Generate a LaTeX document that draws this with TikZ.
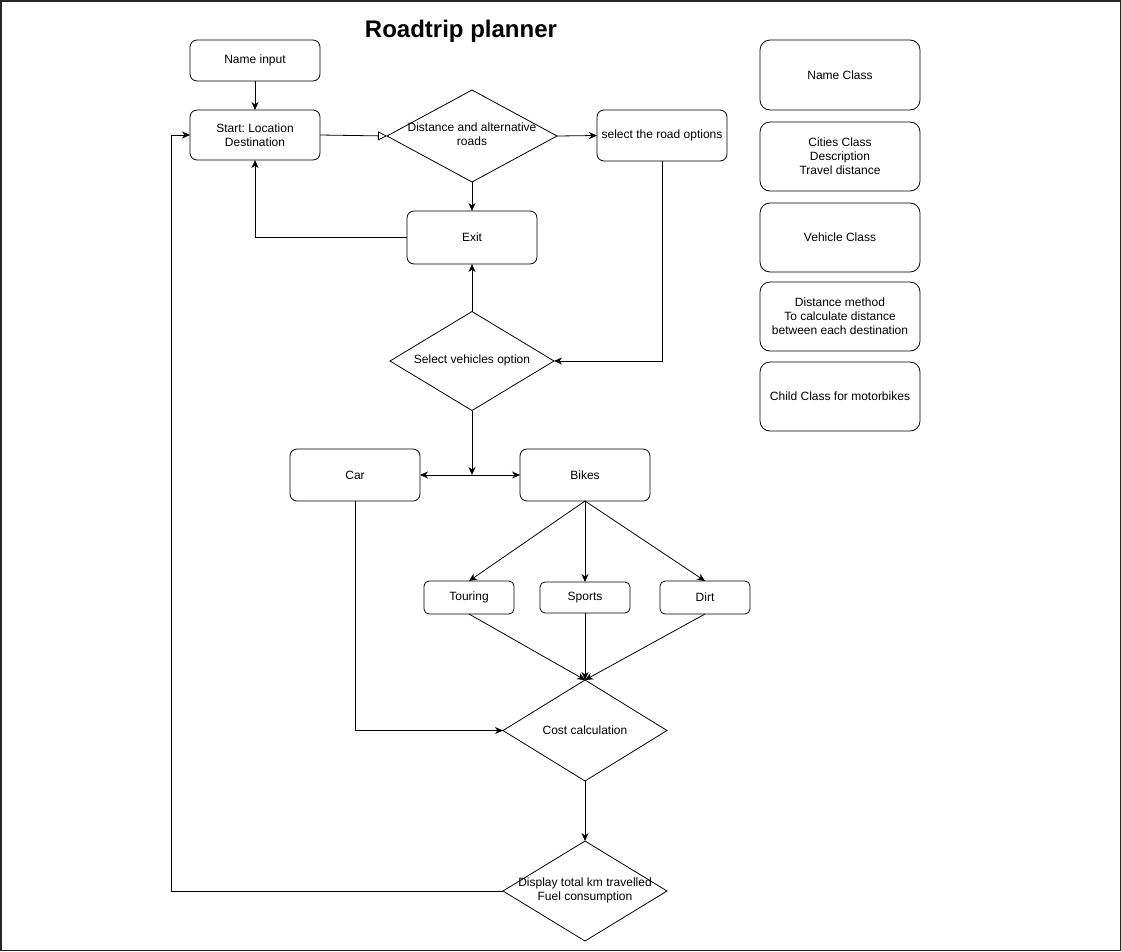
\documentclass[tikz,border=0pt]{standalone}
\usepackage{fontspec}
\setmainfont{Liberation Sans}
\usetikzlibrary{shapes.geometric,arrows.meta}
\frenchspacing
\begin{document}
\begin{tikzpicture}[x=1pt,y=-1pt,
  font=\fontsize{12}{14}\selectfont,
  every node/.style={inner sep=0pt,outer sep=0pt},
  rbox/.style={draw,rounded corners=7pt,line width=0.8pt,align=center},
  cbox/.style={draw,rounded corners=10pt,line width=0.8pt,align=center,minimum width=160pt},
  dbox/.style={draw,diamond,line width=0.8pt},
  lbl/.style={align=center},
  conn/.style={line width=0.8pt,-{Stealth[length=8pt,width=7pt,inset=2.5pt]}},
  openconn/.style={line width=0.8pt,-{Triangle[open,length=9pt,width=9pt]}},
  plain/.style={line width=0.8pt}
]
\useasboundingbox (0,0) rectangle (1121,951);
\draw[black!85,line width=1.5pt] (0.75,0.75) rectangle (1120.25,950.25);

\node[font=\bfseries\fontsize{24}{28}\selectfont] (title) at (461,31) {Roadtrip planner};

% left flow
\node[rbox,minimum width=130pt,minimum height=41pt] (name) at (255,60.5) {Name input};
\node[rbox,minimum width=130pt,minimum height=50pt] (start) at (255,135) {Start: Location\\Destination};
\node[dbox,minimum width=170pt,minimum height=92pt] (dist) at (472,136) {};
\node[lbl] (distt) at (472,134) {Distance and alternative\\roads};
\node[rbox,minimum width=130pt,minimum height=51pt] (road) at (662,135.5) {select the road options};
\node[rbox,minimum width=130pt,minimum height=53pt] (exit) at (472,237.5) {Exit};
\node[dbox,minimum width=164pt,minimum height=99pt] (veh) at (472,361) {};
\node[lbl] (veht) at (472,360) {Select vehicles option};
\node[rbox,minimum width=130pt,minimum height=52pt] (car) at (355,475) {Car};
\node[rbox,minimum width=130pt,minimum height=52pt] (bikes) at (585,475) {Bikes};
\coordinate (junc) at (472,475);
\node[rbox,rounded corners=5pt,minimum width=90pt,minimum height=33pt] (touring) at (469,597.5) {Touring};
\node[rbox,rounded corners=5pt,minimum width=90pt,minimum height=31pt] (sports) at (585,597.5) {Sports};
\node[rbox,rounded corners=5pt,minimum width=90pt,minimum height=33pt] (dirt) at (705,597.5) {Dirt};
\node[dbox,minimum width=164pt,minimum height=101pt] (cost) at (585,730.5) {};
\node[lbl] (costt) at (585,730) {Cost calculation};
\node[dbox,minimum width=164pt,minimum height=100pt] (disp) at (585,891) {};
\node[lbl] (dispt) at (585,890) {Display total km travelled\\Fuel consumption};

% right column
\node[cbox,minimum height=70pt] (c1) at (840,75) {Name Class};
\node[cbox,minimum height=69pt] (c2) at (840,156.5) {Cities Class\\Description\\Travel distance};
\node[cbox,minimum height=69pt] (c3) at (840,237.5) {Vehicle Class};
\node[cbox,minimum height=69pt] (c4) at (840,316.5) {Distance method\\To calculate distance\\between each destination};
\node[cbox,minimum height=69pt] (c5) at (840,396.5) {Child Class for motorbikes};

% connectors
\draw[conn] (name.south) -- (start.north);
\draw[openconn] (start.east) -- (dist.west);
\draw[conn] (dist.east) -- (road.west);
\draw[conn] (dist.south) -- (exit.north);
\draw[conn] (exit.west) -| (start.south);
\draw[conn] (road.south) |- (veh.east);
\draw[conn] (veh.north) -- (exit.south);
\draw[conn] (veh.south) -- (junc);
\draw[conn] (junc) -- (car.east);
\draw[conn] (junc) -- (bikes.west);
\draw[conn] (bikes.south) -- (touring.north);
\draw[conn] (bikes.south) -- (sports.north);
\draw[conn] (bikes.south) -- (dirt.north);
\draw[conn] (touring.south) -- (cost.north);
\draw[conn] (sports.south) -- (cost.north);
\draw[conn] (dirt.south) -- (cost.north);
\draw[conn] (car.south) |- (cost.west);
\draw[conn] (cost.south) -- (disp.north);
\draw[conn] (disp.west) -- (171,891) |- (start.west);
\end{tikzpicture}
\end{document}
